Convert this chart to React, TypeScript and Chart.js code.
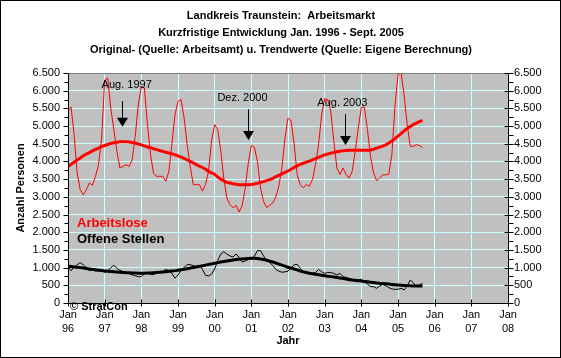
import React, { useEffect, useRef } from 'react';
import { Chart, registerables } from 'chart.js';

Chart.register(...registerables);

const FONT = '"Liberation Sans", Arial, Helvetica, sans-serif';

const titleLines = [
  'Landkreis Traunstein:  Arbeitsmarkt',
  'Kurzfristige Entwicklung Jan. 1996 - Sept. 2005',
  'Original- (Quelle: Arbeitsamt) u. Trendwerte (Quelle: Eigene Berechnung)',
];

const yearLabels = ['96', '97', '98', '99', '00', '01', '02', '03', '04', '05', '06', '07', '08'];

// monthly values, Jan 1996 .. Sept 2005
const arbeitslose = [
  5417, 5540, 4760, 3680, 3200, 3060, 3200, 3390, 3330, 3580, 3910, 4660,
  6300, 6360, 5500, 4900, 4290, 3815, 3860, 3910, 3860, 4050, 4710, 5600,
  6120, 6076, 5040, 4190, 3670, 3580, 3580, 3580, 3440, 3720, 4470, 5320,
  5700, 5750, 5230, 4470, 3860, 3345, 3345, 3345, 3160, 3345, 3720, 4600,
  5040, 4900, 4300, 3500, 2970, 2780, 2690, 2760, 2570, 2750, 3250, 3950,
  4455, 4400, 4000, 3250, 2870, 2700, 2760, 2830, 2990, 3300, 3815, 4660,
  5230, 5150, 4500, 3630, 3345, 3250, 3345, 3300, 3490, 3910, 4470, 5320,
  5775, 5750, 5420, 4570, 3815, 3630, 3815, 3630, 3530, 3720, 4290, 4945,
  5530, 5530, 4900, 4145, 3674, 3457, 3533, 3620, 3620, 3645, 4193, 5550,
  6450, 6500, 5880, 5040, 4430, 4430, 4475, 4450, 4400,
];

const arbeitsloseTrend = [
  3860, 3920, 3980, 4040, 4100, 4160, 4210, 4250, 4300, 4340, 4380, 4420,
  4450, 4480, 4510, 4530, 4545, 4555, 4560, 4555, 4550, 4535, 4520, 4495,
  4470, 4440, 4410, 4390, 4360, 4335, 4310, 4285, 4262, 4240, 4215, 4190,
  4160, 4120, 4085, 4045, 4005, 3960, 3910, 3865, 3830, 3780, 3720, 3680,
  3640, 3560, 3500, 3450, 3410, 3390, 3370, 3355, 3345, 3345, 3345, 3345,
  3350, 3365, 3385, 3410, 3430, 3460, 3486, 3520, 3570, 3605, 3650, 3690,
  3730, 3780, 3830, 3875, 3920, 3950, 3980, 4010, 4045, 4080, 4115, 4150,
  4185, 4210, 4235, 4255, 4275, 4290, 4300, 4310, 4315, 4315, 4315, 4315,
  4315, 4315, 4318, 4325, 4345, 4375, 4405, 4435, 4470, 4520, 4580, 4645,
  4715, 4790, 4865, 4935, 4990, 5040, 5085, 5125, 5165,
];

const offeneStellen = [
  1030, 910, 1020, 1080, 1140, 1080, 1000, 910, 940, 900, 920, 930,
  866, 920, 990, 1070, 980, 920, 890, 870, 830, 795, 770, 745,
  745, 830, 840, 810, 800, 850, 870, 885, 950, 915, 840, 700,
  790, 920, 1000, 1090, 1080, 1055, 1030, 1070, 950, 780, 765, 820,
  960, 1200, 1380, 1450, 1380, 1330, 1300, 1385, 1290, 1160, 1190, 1230,
  1250, 1320, 1480, 1480, 1330, 1200, 1150, 1060, 950, 900, 870, 880,
  900, 990, 1080, 1090, 980, 885, 857, 838, 838, 857, 950, 885,
  838, 866, 857, 838, 791, 838, 744, 725, 697, 669, 669, 650,
  669, 603, 537, 462, 462, 415, 480, 527, 490, 434, 396, 387,
  387, 415, 368, 480, 650, 575, 462, 509, 556,
];

const offeneStellenTrend = [
  1040, 1030, 1020, 1010, 1000, 988, 975, 962, 950, 938, 927, 917,
  907, 898, 890, 883, 876, 870, 864, 858, 853, 848, 845, 843,
  842, 843, 846, 850, 855, 861, 868, 876, 885, 895, 905, 915,
  927, 940, 954, 969, 985, 1001, 1018, 1035, 1052, 1070, 1088, 1106,
  1124, 1141, 1158, 1174, 1189, 1203, 1216, 1228, 1238, 1247, 1254, 1259,
  1262, 1262, 1255, 1245, 1230, 1210, 1185, 1160, 1130, 1100, 1070, 1040,
  1010, 985, 960, 935, 905, 880, 860, 842, 828, 814, 800, 786,
  772, 758, 745, 732, 720, 706, 690, 675, 660, 648, 638, 628,
  618, 608, 598, 588, 578, 568, 558, 550, 542, 534, 526, 518,
  510, 503, 497, 491, 486, 483, 481, 480, 479,
];

const annotationLabels = ['Aug. 1997', 'Dez. 2000', 'Aug. 2003'];
const annotationTextX = [19.2, 57.1, 89.8];
const annotationTextY = [6160, 5795, 5660];
const annotationArrowX = [17.8, 59, 90.6];
const annotationArrowTop = [5708, 5470, 5333];
const annotationArrowTip = [4983, 4610, 4465];

const fmt = (v: number) =>
  v >= 1000 ? `${Math.floor(v / 1000)}.${String(v % 1000).padStart(3, '0')}` : String(v);

export default function App() {
  const ref = useRef<HTMLCanvasElement>(null);

  useEffect(() => {
    const canvas = ref.current!;
    const toPts = (arr: number[]) => arr.map((y, i) => ({ x: i, y }));

    const decor = {
      id: 'decor',
      beforeDraw(chart: any) {
        const { ctx, chartArea: a, width, height } = chart;
        ctx.save();
        ctx.fillStyle = '#ffffff';
        ctx.fillRect(0, 0, width, height);
        ctx.fillStyle = '#C0C0C0';
        ctx.fillRect(a.left, a.top, a.right - a.left, a.bottom - a.top);
        ctx.restore();
      },
      afterDatasetsDraw(chart: any) {
        const { ctx, chartArea: a, scales } = chart;
        const xs = scales.x;
        const ys = scales.y;
        const L = Math.round(a.left) + 0.5;
        const R = Math.round(a.right) + 0.5;
        const T = Math.round(a.top) + 0.5;
        const B = Math.round(a.bottom) + 0.5;
        ctx.save();
        ctx.lineWidth = 1;
        // top border
        ctx.strokeStyle = '#808080';
        ctx.beginPath();
        ctx.moveTo(L, T);
        ctx.lineTo(R, T);
        ctx.stroke();
        // axes
        ctx.strokeStyle = '#000';
        ctx.beginPath();
        ctx.moveTo(L, T);
        ctx.lineTo(L, B);
        ctx.lineTo(R, B);
        ctx.lineTo(R, T);
        ctx.stroke();
        // y ticks
        ctx.beginPath();
        for (let v = 0; v <= 6500; v += 250) {
          const y = Math.round(ys.getPixelForValue(v)) + 0.5;
          const major = v % 500 === 0;
          ctx.moveTo(L - (major ? 5 : 4), y);
          ctx.lineTo(L, y);
          ctx.moveTo(R - (major ? 4 : 0), y);
          ctx.lineTo(R + 5, y);
        }
        // x ticks
        for (let k = 0; k < yearLabels.length; k++) {
          const x = Math.round(xs.getPixelForValue(k * 12)) + 0.5;
          ctx.moveTo(x, B - 4);
          ctx.lineTo(x, B + 3);
        }
        ctx.stroke();

        // annotations
        ctx.fillStyle = '#000';
        ctx.font = `11px ${FONT}`;
        ctx.textAlign = 'center';
        ctx.textBaseline = 'middle';
        annotationLabels.forEach((t, i) => {
          ctx.fillText(t, xs.getPixelForValue(annotationTextX[i]), ys.getPixelForValue(annotationTextY[i]));
          const ax = Math.round(xs.getPixelForValue(annotationArrowX[i])) + 0.5;
          const y1 = ys.getPixelForValue(annotationArrowTop[i]);
          const y2 = ys.getPixelForValue(annotationArrowTip[i]);
          ctx.beginPath();
          ctx.moveTo(ax, y1);
          ctx.lineTo(ax, y2 - 8);
          ctx.stroke();
          ctx.beginPath();
          ctx.moveTo(ax - 5.5, y2 - 9);
          ctx.lineTo(ax + 5.5, y2 - 9);
          ctx.lineTo(ax, y2);
          ctx.closePath();
          ctx.fill();
        });

        // legend texts
        ctx.textAlign = 'left';
        ctx.font = `bold 13px ${FONT}`;
        ctx.fillStyle = '#FF0000';
        ctx.fillText('Arbeitslose', 77, 223);
        ctx.fillStyle = '#000';
        ctx.fillText('Offene Stellen', 77, 239.5);

        ctx.font = `bold 11px ${FONT}`;
        ctx.fillStyle = '#000';
        ctx.fillText('\u00A9 StratCon', 70, 307);
        ctx.restore();
      },
      afterDraw(chart: any) {
        const { ctx, width, height } = chart;
        ctx.save();
        ctx.fillStyle = '#000';
        ctx.font = `bold 11px ${FONT}`;
        ctx.textAlign = 'center';
        ctx.textBaseline = 'middle';
        titleLines.forEach((t, i) => ctx.fillText(t, 281, 16 + i * 17));
        ctx.strokeStyle = '#000';
        ctx.lineWidth = 1;
        ctx.strokeRect(0.5, 0.5, width - 1, height - 1);
        ctx.restore();
      },
    };

    const tickFont = { family: FONT, size: 11 };
    const yTicks = {
      stepSize: 500,
      maxTicksLimit: 20,
      color: '#000',
      font: tickFont,
      callback: (v: any) => fmt(Number(v)),
    };

    const chart = new Chart(canvas, {
      type: 'line',
      data: {
        datasets: [
          { label: 'Arbeitslose Trend', data: toPts(arbeitsloseTrend), borderColor: '#FF0000', borderWidth: 3, pointRadius: 0, order: 1 },
          { label: 'Arbeitslose', data: toPts(arbeitslose), borderColor: '#FF0000', borderWidth: 1, pointRadius: 0, order: 2 },
          { label: 'Offene Stellen Trend', data: toPts(offeneStellenTrend), borderColor: '#000000', borderWidth: 3, pointRadius: 0, order: 3 },
          { label: 'Offene Stellen', data: toPts(offeneStellen), borderColor: '#000000', borderWidth: 1, pointRadius: 0, order: 4 },
        ],
      },
      options: {
        responsive: false,
        animation: false,
        events: [],
        layout: { padding: { left: 8, right: 0, top: 73, bottom: 0 } },
        plugins: { legend: { display: false }, tooltip: { enabled: false }, title: { display: false } },
        scales: {
          x: {
            type: 'linear',
            min: 0,
            max: 144,
            afterBuildTicks: (s: any) => {
              s.ticks = yearLabels.map((_, k) => ({ value: k * 12 }));
            },
            afterFit: (s: any) => {
              s.height = 55;
            },
            ticks: {
              autoSkip: false,
              maxRotation: 0,
              color: '#000',
              padding: 5,
              font: { family: FONT, size: 11, lineHeight: 1.3 },
              callback: (_v: any, i: number) => ['Jan', yearLabels[i]],
            },
            grid: { color: '#CCFFFF', lineWidth: 1, drawTicks: false },
            border: { display: false },
            title: {
              display: true,
              text: 'Jahr',
              color: '#000',
              font: { family: FONT, size: 11, weight: 'bold' },
              padding: { top: 0, bottom: 10 },
            },
          },
          y: {
            type: 'linear',
            position: 'left',
            min: 0,
            max: 6500,
            afterFit: (s: any) => {
              s.width = 60;
            },
            ticks: { ...yTicks, padding: 8 },
            grid: { color: '#CCFFFF', lineWidth: 1, drawTicks: false },
            border: { display: false },
            title: {
              display: true,
              text: 'Anzahl Personen',
              color: '#000',
              font: { family: FONT, size: 11, weight: 'bold' },
              padding: { top: 6, bottom: 0 },
            },
          },
          y2: {
            type: 'linear',
            position: 'right',
            min: 0,
            max: 6500,
            afterFit: (s: any) => {
              s.width = 53;
            },
            ticks: { ...yTicks, padding: 6 },
            grid: { display: false, drawTicks: false },
            border: { display: false },
          },
        },
      },
      plugins: [decor],
    } as any);

    return () => chart.destroy();
  }, []);

  return (
    <div style={{ position: 'absolute', left: 0, top: 0, width: 561, height: 358 }}>
      <canvas ref={ref} width={561} height={358} style={{ display: 'block', width: 561, height: 358 }} />
    </div>
  );
}
